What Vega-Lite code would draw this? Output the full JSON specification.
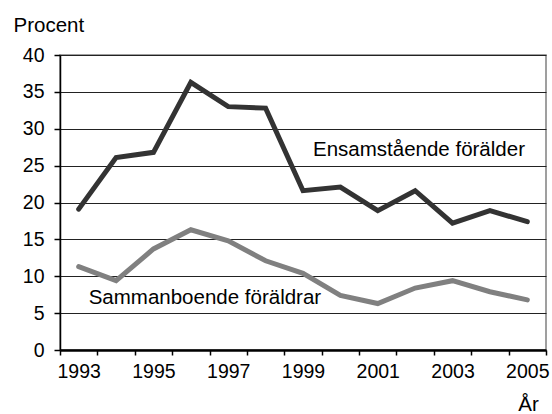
{
  "$schema": "https://vega.github.io/schema/vega-lite/v6.json",
  "width": 486,
  "height": 295,
  "autosize": {"type": "none"},
  "padding": {"left": 60, "top": 55, "right": 6, "bottom": 64},
  "background": "white",
  "config": {
    "font": "Liberation Sans",
    "view": {"stroke": "#808080", "strokeWidth": 1.5}
  },
  "datasets": {
    "lines": [
      {"year": "1993", "series": "Ensamstående förälder", "value": 19.1},
      {"year": "1994", "series": "Ensamstående förälder", "value": 26.1},
      {"year": "1995", "series": "Ensamstående förälder", "value": 26.8},
      {"year": "1996", "series": "Ensamstående förälder", "value": 36.3},
      {"year": "1997", "series": "Ensamstående förälder", "value": 33.0},
      {"year": "1998", "series": "Ensamstående förälder", "value": 32.8},
      {"year": "1999", "series": "Ensamstående förälder", "value": 21.6},
      {"year": "2000", "series": "Ensamstående förälder", "value": 22.1},
      {"year": "2001", "series": "Ensamstående förälder", "value": 18.9},
      {"year": "2002", "series": "Ensamstående förälder", "value": 21.6},
      {"year": "2003", "series": "Ensamstående förälder", "value": 17.2},
      {"year": "2004", "series": "Ensamstående förälder", "value": 18.9},
      {"year": "2005", "series": "Ensamstående förälder", "value": 17.4},
      {"year": "1993", "series": "Sammanboende föräldrar", "value": 11.3},
      {"year": "1994", "series": "Sammanboende föräldrar", "value": 9.4},
      {"year": "1995", "series": "Sammanboende föräldrar", "value": 13.7},
      {"year": "1996", "series": "Sammanboende föräldrar", "value": 16.3},
      {"year": "1997", "series": "Sammanboende föräldrar", "value": 14.8},
      {"year": "1998", "series": "Sammanboende föräldrar", "value": 12.1},
      {"year": "1999", "series": "Sammanboende föräldrar", "value": 10.4},
      {"year": "2000", "series": "Sammanboende föräldrar", "value": 7.4},
      {"year": "2001", "series": "Sammanboende föräldrar", "value": 6.3},
      {"year": "2002", "series": "Sammanboende föräldrar", "value": 8.4},
      {"year": "2003", "series": "Sammanboende föräldrar", "value": 9.4},
      {"year": "2004", "series": "Sammanboende föräldrar", "value": 7.9},
      {"year": "2005", "series": "Sammanboende föräldrar", "value": 6.8}
    ],
    "labels": [
      {"year": "1999", "value": 26.3, "label": "Ensamstående förälder"},
      {"year": "1993", "value": 6.3, "label": "Sammanboende föräldrar"}
    ]
  },
  "encoding": {
    "x": {
      "field": "year",
      "type": "ordinal",
      "bandPosition": 0.5,
      "scale": {"type": "band", "paddingInner": 0, "paddingOuter": 0},
      "axis": {
        "title": "År",
        "titleFontSize": 20.5,
        "titleFontWeight": "normal",
        "titleColor": "#000",
        "titleX": 468,
        "titleY": 60,
        "titleAlign": "center",
        "titleBaseline": "alphabetic",
        "titleAnchor": null,
        "labelAngle": 0,
        "labelFontSize": 19.5,
        "labelColor": "#000",
        "labelPadding": 7,
        "labelExpr": "(toNumber(datum.value) - 1993) % 2 == 0 ? datum.label : ''",
        "tickBand": "extent",
        "tickSize": 5,
        "tickColor": "#000",
        "tickWidth": 1.5,
        "domainColor": "#000",
        "domainWidth": 2.5,
        "grid": false
      }
    },
    "y": {
      "field": "value",
      "type": "quantitative",
      "scale": {"domain": [0, 40], "nice": false},
      "axis": {
        "title": "Procent",
        "titleFontSize": 20.5,
        "titleFontWeight": "normal",
        "titleColor": "#000",
        "titleAngle": 0,
        "titleAlign": "left",
        "titleBaseline": "alphabetic",
        "titleX": -47,
        "titleY": -24,
        "titleAnchor": null,
        "values": [0, 5, 10, 15, 20, 25, 30, 35, 40],
        "labelOverlap": false,
        "labelFontSize": 19.5,
        "labelColor": "#000",
        "labelPadding": 10,
        "tickSize": 6,
        "tickColor": "#000",
        "tickWidth": 1.5,
        "domainColor": "#000",
        "domainWidth": 1.5,
        "grid": true,
        "gridColor": "#222",
        "gridWidth": 1,
        "gridOpacity": 1
      }
    }
  },
  "layer": [
    {
      "data": {"name": "lines"},
      "mark": {"type": "line", "strokeWidth": 5, "strokeCap": "round", "strokeJoin": "miter"},
      "encoding": {
        "color": {
          "field": "series",
          "type": "nominal",
          "scale": {"domain": ["Ensamstående förälder", "Sammanboende föräldrar"], "range": ["#333333", "#808080"]},
          "legend": null
        }
      }
    },
    {
      "data": {"name": "labels"},
      "mark": {"type": "text", "align": "left", "baseline": "alphabetic", "fontSize": 20.5, "color": "#000", "dx": 10},
      "encoding": {
        "text": {"field": "label"}
      }
    }
  ]
}
